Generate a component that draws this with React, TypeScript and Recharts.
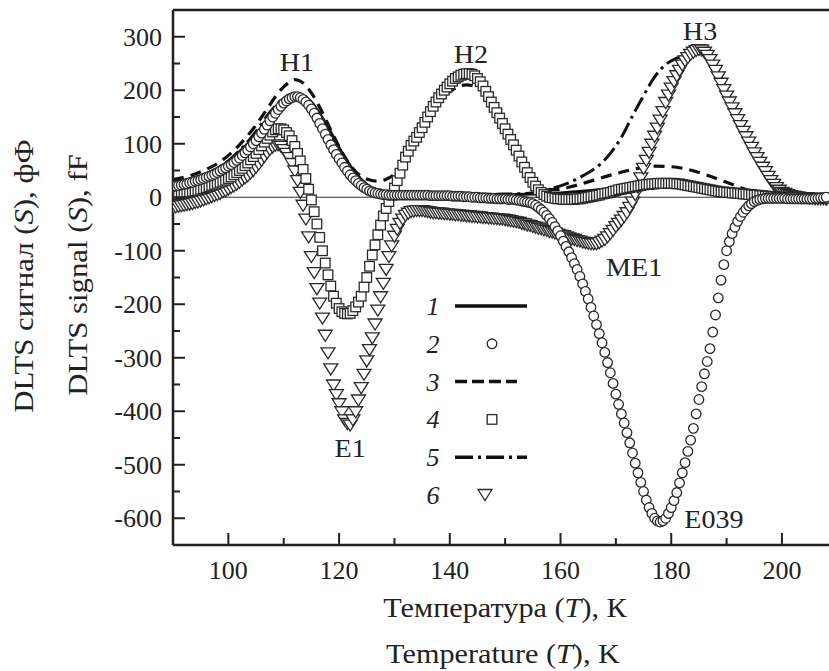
import React from 'react';
import { ComposedChart, Line, Scatter, XAxis, YAxis, ReferenceLine, ReferenceDot } from 'recharts';

const FONT = 'Liberation Serif, Times New Roman, serif';
const INK = '#222';

// plot frame in px (chart is 829 x 671)
const PLOT_LEFT = 173;
const PLOT_BOTTOM = 545;

// temperature grid of the marker curves: 90..208 K every 0.5 K
const markerTemps = Array.from({ length: 237 }, (_, i) => 90 + i * 0.5);

// curve 2 (circles), fF
const circleSignal = [
  20, 21, 22, 23, 24, 25, 27, 28, 30, 31,
  33, 35, 37, 39, 41, 43, 46, 49, 52, 55,
  58, 61, 65, 69, 73, 78, 83, 88, 94, 100,
  106, 113, 120, 127, 135, 143, 150, 157, 164, 170,
  176, 180, 184, 186, 188, 188, 186, 183, 178, 172,
  165, 157, 148, 138, 128, 118, 108, 98, 89, 80,
  72, 64, 56, 49, 42, 36, 31, 26, 22, 18,
  15, 12, 10, 8, 7, 6, 5, 5, 4, 4,
  4, 4, 4, 4, 4, 4, 4, 4, 4, 4,
  4, 4, 4, 3, 3, 3, 3, 3, 3, 3,
  3, 2, 2, 2, 2, 1, 1, 1, 0, 0,
  0, -1, -1, -1, -2, -2, -2, -3, -3, -3,
  -3, -4, -4, -4, -5, -6, -7, -8, -9, -10,
  -12, -15, -19, -23, -28, -34, -40, -47, -55, -63,
  -72, -82, -92, -102, -113, -124, -135, -148, -162, -176,
  -190, -206, -222, -238, -255, -272, -290, -309, -328, -348,
  -368, -387, -405, -422, -440, -459, -478, -497, -515, -533,
  -550, -566, -580, -591, -600, -605, -607, -605, -600, -591,
  -580, -567, -552, -534, -515, -496, -475, -454, -432, -405,
  -378, -354, -330, -307, -283, -252, -220, -188, -155, -126,
  -100, -83, -68, -56, -45, -36, -28, -22, -16, -12,
  -8, -6, -4, -3, -2, -2, -2, -2, -2, -2,
  -2, -2, -3, -3, -3, -3, -3, -3, -3, -3,
  -3, -3, -2, -2, -1, -1, 0,
];

// curve 4 (squares)
const squareSignal = [
  4, 5, 6, 7, 8, 9, 10, 11, 12, 13,
  15, 16, 18, 20, 22, 24, 26, 28, 30, 32,
  35, 38, 42, 46, 50, 54, 59, 64, 70, 76,
  82, 89, 96, 103, 110, 116, 122, 126, 128, 128,
  126, 121, 115, 106, 95, 82, 68, 52, 35, 15,
  -5, -27, -50, -75, -100, -123, -145, -166, -185, -198,
  -208, -214, -217, -218, -217, -212, -205, -196, -185, -168,
  -150, -129, -108, -89, -70, -52, -35, -21, -8, 4,
  17, 31, 45, 60, 75, 86, 97, 105, 112, 121,
  130, 140, 150, 160, 170, 178, 186, 193, 200, 206,
  212, 217, 222, 225, 228, 230, 231, 231, 230, 227,
  222, 216, 208, 198, 188, 178, 168, 158, 148, 138,
  128, 118, 108, 98, 88, 77, 66, 56, 46, 37,
  28, 21, 14, 9, 5, 2, 0, -1, -2, -3,
  -3, -4, -4, -4, -4, -4, -3, -3, -2, -1,
  0, 1, 2, 3, 4, 6, 7, 8, 9, 11,
  12, 14, 15, 16, 17, 18, 19, 20, 21, 22,
  23, 24, 24, 25, 25, 26, 26, 26, 26, 26,
  26, 26, 25, 25, 24, 23, 22, 21, 20, 19,
  18, 17, 16, 15, 14, 13, 12, 11, 10, 10,
  9, 9, 8, 8, 7, 7, 6, 6, 5, 5,
  4, 4, 3, 3, 2, 2, 1, 1, 0, 0,
  0, 0, -1, -1, -1, -1, -1, -2, -2, -2,
  -2, -2, -2, -2, -2, -2, -2,
];

// curve 6 (triangles)
const triangleSignal = [
  -18, -17, -16, -15, -14, -13, -12, -11, -9, -8,
  -6, -4, -2, 0, 2, 4, 6, 8, 11, 13,
  16, 19, 22, 25, 29, 33, 37, 41, 46, 51,
  57, 63, 70, 77, 84, 90, 95, 98, 99, 96,
  90, 83, 75, 64, 50, 32, 10, -14, -40, -73,
  -110, -140, -170, -197, -225, -257, -290, -320, -350, -368,
  -385, -400, -415, -422, -425, -415, -400, -378, -355, -330,
  -305, -284, -262, -236, -210, -185, -160, -134, -110, -90,
  -72, -59, -48, -40, -33, -29, -26, -25, -24, -24,
  -24, -25, -26, -27, -28, -28, -29, -29, -30, -30,
  -31, -31, -32, -32, -33, -33, -34, -34, -35, -35,
  -36, -36, -37, -37, -38, -38, -39, -39, -40, -40,
  -41, -42, -43, -44, -45, -46, -48, -49, -51, -52,
  -54, -55, -57, -58, -60, -61, -63, -64, -66, -68,
  -70, -71, -73, -75, -77, -78, -80, -81, -83, -84,
  -85, -86, -86, -86, -84, -81, -78, -73, -67, -61,
  -54, -48, -42, -35, -28, -18, -8, 6, 20, 37,
  55, 70, 85, 100, 115, 130, 145, 161, 178, 192,
  205, 217, 228, 238, 248, 256, 262, 268, 272, 275,
  277, 276, 272, 266, 258, 248, 238, 226, 214, 202,
  190, 179, 168, 157, 146, 135, 124, 114, 104, 94,
  84, 75, 66, 57, 49, 40, 32, 25, 19, 14,
  10, 8, 6, 4, 3, 2, 1, 0, 0, 0,
  -1, -1, -2, -2, -2, -2, -3,
];

// curve 1 (solid)
const solidTemps = [90, 93, 96, 99, 102, 105, 107, 109, 111, 112, 113, 115, 117, 119, 121, 123, 125, 127, 130, 135, 140, 145, 150, 155, 160, 165, 170, 175, 180, 185, 190, 195, 200, 208];
const solidSignal = [28, 34, 44, 60, 85, 118, 145, 172, 190, 194, 192, 178, 148, 112, 75, 45, 24, 13, 7, 4, 4, 4, 5, 6, 8, 12, 17, 22, 25, 22, 14, 6, 2, 0];

// curve 3 (dashed)
const dashTemps = [90, 93, 96, 99, 102, 105, 107, 109, 111, 112, 113, 115, 117, 119, 121, 123, 125, 127, 129, 131, 133, 135, 137, 139, 141, 143, 145, 147, 149, 151, 153, 155, 157, 159, 162, 166, 170, 174, 177, 180, 183, 186, 190, 195, 200, 208];
const dashSignal = [33, 40, 52, 70, 98, 135, 165, 195, 215, 220, 217, 195, 158, 115, 76, 48, 34, 30, 36, 55, 88, 125, 160, 188, 204, 210, 205, 185, 150, 105, 62, 30, 16, 14, 20, 32, 44, 54, 58, 57, 52, 43, 28, 10, 3, 0];

// curve 5 (dash-dot)
const dashDotTemps = [90, 95, 100, 104, 108, 110, 112, 114, 116, 118, 120, 122, 124, 126, 128, 132, 140, 150, 155, 158, 161, 164, 167, 169, 171, 173, 175, 177, 179, 181, 183, 185, 186, 187, 189, 191, 193, 195, 197, 199, 201, 204, 208];
const dashDotSignal = [26, 40, 68, 110, 165, 185, 192, 185, 160, 122, 85, 52, 30, 17, 10, 6, 5, 6, 8, 15, 25, 40, 60, 82, 112, 152, 190, 225, 248, 260, 268, 275, 274, 262, 225, 175, 125, 82, 45, 18, 6, 1, 0];

// peak names
const peakNames = ['H1', 'H2', 'H3', 'E1', 'ME1', 'E039'];
const peakNameT = [112.4, 143.8, 185.2, 122.0, 173.3, 187.7];
const peakNameS = [253, 268, 311, -469, -130, -601];

const xTicks = [100, 110, 120, 130, 140, 150, 160, 170, 180, 190, 200];
const yTicks = [-600, -550, -500, -450, -400, -350, -300, -250, -200, -150, -100, -50, 0, 50, 100, 150, 200, 250, 300];

const legendNames = ['1', '2', '3', '4', '5', '6'];

const zip = (ts: number[], ss: number[]) => ts.map((t, i) => ({ t, v: ss[i] }));

const circleData = zip(markerTemps, circleSignal);
const squareData = zip(markerTemps, squareSignal);
const triangleData = zip(markerTemps, triangleSignal);
const solidData = zip(solidTemps, solidSignal);
const dashData = zip(dashTemps, dashSignal);
const dashDotData = zip(dashDotTemps, dashDotSignal);

const MARK = { fill: '#fff', stroke: '#2a2a2a', strokeWidth: 1.3 };

const CircleMark = ({ cx, cy }: any) => <circle cx={cx} cy={cy} r={4.8} {...MARK} />;
const SquareMark = ({ cx, cy }: any) => <rect x={cx - 4.8} y={cy - 4.8} width={9.6} height={9.6} {...MARK} />;
const TriangleMark = ({ cx, cy }: any) => (
  <path d={`M${cx - 7},${cy - 4.5} L${cx + 7},${cy - 4.5} L${cx},${cy + 6.5} Z`} {...MARK} />
);

// text slightly widened along its own direction (the printed font is wider than Liberation Serif)
const Txt = ({ x, y, size = 26, sx = 1, rotate = false, anchor = 'middle', italic = false, children }: any) => (
  <text
    transform={`translate(${x},${y})${rotate ? ' rotate(-90)' : ''} scale(${sx},1)`}
    textAnchor={anchor}
    style={{ fontFamily: FONT, fontSize: size, fontStyle: italic ? 'italic' : 'normal' }}
    fill={INK}
  >
    {children}
  </text>
);

const XTick = ({ x, payload }: any) => {
  const major = payload.value % 20 === 0;
  return (
    <g>
      <line x1={x} x2={x} y1={PLOT_BOTTOM} y2={PLOT_BOTTOM - (major ? 12 : 7)} stroke={INK} strokeWidth={2} />
      {major && <Txt x={x} y={579}>{payload.value}</Txt>}
    </g>
  );
};

const YTick = ({ y, payload }: any) => {
  const major = payload.value % 100 === 0;
  return (
    <g>
      <line x1={PLOT_LEFT} x2={PLOT_LEFT + (major ? 12 : 7)} y1={y} y2={y} stroke={INK} strokeWidth={2} />
      {major && <Txt x={162} y={y + 9} anchor="end">{payload.value}</Txt>}
    </g>
  );
};

const Overlay = () => (
  <svg width={829} height={671} style={{ position: 'absolute', left: 0, top: 0, pointerEvents: 'none' }}>
    {legendNames.map((n, i) => {
      const y = 306 + i * 37.8;
      return (
        <g key={n}>
          <Txt x={433} y={y + 9} italic>{n}</Txt>
          {i === 0 && <line x1={455} x2={527} y1={y} y2={y} stroke="#111" strokeWidth={3.5} />}
          {i === 1 && <CircleMark cx={492} cy={y} />}
          {i === 2 && <line x1={455} x2={517} y1={y} y2={y} stroke="#111" strokeWidth={3.5} strokeDasharray="12 5" />}
          {i === 3 && <SquareMark cx={492} cy={y} />}
          {i === 4 && <line x1={455} x2={527} y1={y} y2={y} stroke="#111" strokeWidth={3.5} strokeDasharray="18 5 3 5" />}
          {i === 5 && <TriangleMark cx={485} cy={y - 1} />}
        </g>
      );
    })}
    <Txt x={33} y={276} size={27} sx={1.14} rotate>
      DLTS сигнал (<tspan fontStyle="italic">S</tspan>), фФ
    </Txt>
    <Txt x={87} y={275} size={27} sx={1.14} rotate>
      DLTS signal (<tspan fontStyle="italic">S</tspan>), fF
    </Txt>
    <Txt x={505} y={617} size={27} sx={1.12}>
      Температура (<tspan fontStyle="italic">T</tspan>), К
    </Txt>
    <Txt x={503} y={663} size={27} sx={1.12}>
      Temperature (<tspan fontStyle="italic">T</tspan>), K
    </Txt>
  </svg>
);

export default function App() {
  return (
    <div style={{ position: 'absolute', left: 0, top: 0, width: 829, height: 671, background: '#fff' }}>
      <ComposedChart width={829} height={671} margin={{ top: 10, right: 0, bottom: 0, left: 0 }}>
        <XAxis
          type="number"
          dataKey="t"
          domain={[90, 208.5]}
          allowDataOverflow
          ticks={xTicks}
          interval={0}
          height={126}
          tickLine={false}
          axisLine={{ stroke: INK, strokeWidth: 2.5 }}
          tick={(p: any) => <XTick {...p} />}
        />
        <YAxis
          type="number"
          dataKey="v"
          domain={[-650, 350]}
          allowDataOverflow
          ticks={yTicks}
          interval={0}
          width={173}
          tickLine={false}
          axisLine={{ stroke: INK, strokeWidth: 2.5 }}
          tick={(p: any) => <YTick {...p} />}
        />
        <ReferenceLine y={0} stroke="#333" strokeWidth={1} />
        <ReferenceLine y={350} stroke={INK} strokeWidth={2.5} />
        <Scatter data={triangleData} shape={TriangleMark} isAnimationActive={false} />
        <Scatter data={squareData} shape={SquareMark} isAnimationActive={false} />
        <Scatter data={circleData} shape={CircleMark} isAnimationActive={false} />
        <Line data={solidData} dataKey="v" type="monotone" stroke="#111" strokeWidth={3} dot={false} isAnimationActive={false} />
        <Line data={dashData} dataKey="v" type="monotone" stroke="#111" strokeWidth={3.2} strokeDasharray="11 7" dot={false} isAnimationActive={false} />
        <Line data={dashDotData} dataKey="v" type="monotone" stroke="#111" strokeWidth={3} strokeDasharray="16 5 3 5" dot={false} isAnimationActive={false} />
        {peakNames.map((name, i) => (
          <ReferenceDot
            key={name}
            x={peakNameT[i]}
            y={peakNameS[i]}
            r={0}
            shape={(p: any) => <Txt x={p.cx} y={p.cy + 9} sx={1.08}>{name}</Txt>}
          />
        ))}
      </ComposedChart>
      <Overlay />
    </div>
  );
}
